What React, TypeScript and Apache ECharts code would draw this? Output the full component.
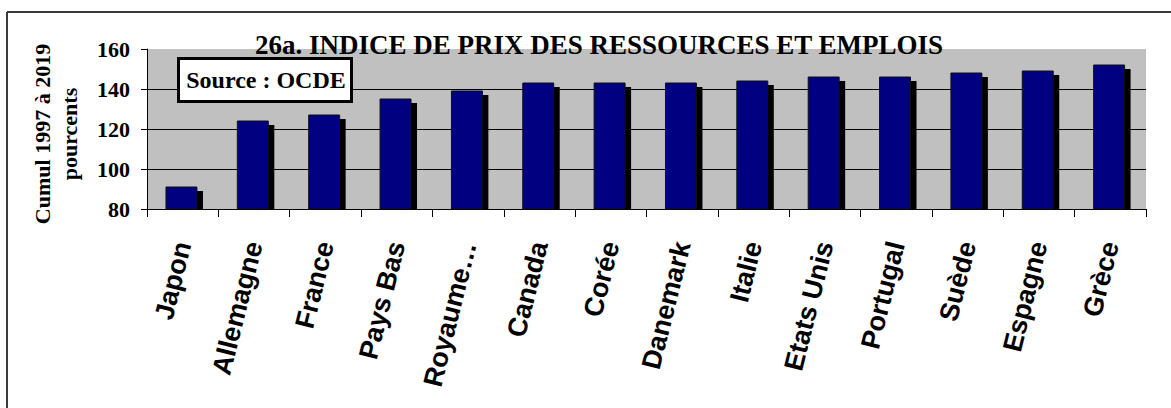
import React, { useEffect, useRef } from "react";
import * as echarts from "echarts";

const categories = [
  "Japon",
  "Allemagne",
  "France",
  "Pays Bas",
  "Royaume…",
  "Canada",
  "Corée",
  "Danemark",
  "Italie",
  "Etats Unis",
  "Portugal",
  "Suède",
  "Espagne",
  "Grèce",
];
const values = [91, 124, 127, 135, 139, 143, 143, 143, 144, 146, 146, 148, 149, 152];
const yMin = 80;
const yMax = 160;
const yStep = 20;
const titleText = "26a. INDICE DE PRIX DES RESSOURCES ET EMPLOIS";
const sourceText = "Source : OCDE";
const yAxisTitle = "Cumul 1997 à 2019\npourcents";

const SERIF = '"Liberation Serif", "Times New Roman", serif';
const SANS = '"Liberation Sans", Arial, sans-serif';

export default function App() {
  const ref = useRef<HTMLDivElement>(null);
  useEffect(() => {
    if (!ref.current) return;
    const chart = echarts.init(ref.current, undefined, { renderer: "svg" });
    chart.setOption({
      animation: false,
      backgroundColor: "#ffffff",
      grid: {
        left: 147,
        right: 25,
        top: 49,
        bottom: 199,
        show: true,
        backgroundColor: "#C0C0C0",
        borderWidth: 0,
      },
      xAxis: {
        type: "category",
        data: categories,
        boundaryGap: true,
        axisLine: { show: true, lineStyle: { color: "#000", width: 1 } },
        axisTick: { show: true, interval: 0, length: 8, lineStyle: { color: "#000" } },
        axisLabel: {
          interval: 0,
          rotate: 76,
          margin: 33,
          padding: [0, 0, 14, 0],
          color: "#000",
          fontFamily: SANS,
          fontWeight: "bold",
          fontSize: 27,
        },
        splitLine: { show: false },
      },
      yAxis: {
        type: "value",
        min: yMin,
        max: yMax,
        interval: yStep,
        axisLine: { show: true, lineStyle: { color: "#000", width: 1 } },
        axisTick: { show: true, length: 6, lineStyle: { color: "#000" } },
        axisLabel: {
          margin: 17,
          color: "#000",
          fontFamily: SERIF,
          fontWeight: "bold",
          fontSize: 22,
        },
        splitLine: {
          show: true,
          showMinLine: false,
          showMaxLine: false,
          lineStyle: { color: "#000", width: 1 },
        },
      },
      series: [
        {
          type: "custom",
          data: values.map((v, i) => [i, v]),
          encode: { x: 0, y: 1 },
          renderItem: (params: any, api: any) => {
            const idx = api.value(0);
            const v = api.value(1);
            const top = api.coord([idx, v]);
            const base = api.coord([idx, yMin]);
            const band = api.size([1, 0])[0];
            const w = band * 0.434;
            const left = top[0] - band * 0.234;
            return {
              type: "group",
              children: [
                {
                  type: "rect",
                  shape: { x: left + 6, y: top[1] + 4, width: w, height: base[1] - top[1] - 4 },
                  style: { fill: "#000" },
                },
                {
                  type: "rect",
                  shape: { x: left, y: top[1], width: w, height: base[1] - top[1] },
                  style: { fill: "#000080", stroke: "#111", lineWidth: 1 },
                },
              ],
            };
          },
        },
      ],
      graphic: [
        {
          type: "line",
          z: 100,
          shape: { x1: 7, y1: 12, x2: 1171, y2: 12 },
          style: { stroke: "#3a3a3a", lineWidth: 2 },
        },
        {
          type: "line",
          z: 100,
          shape: { x1: 7, y1: 12, x2: 7, y2: 408 },
          style: { stroke: "#3a3a3a", lineWidth: 2 },
        },
        {
          type: "text",
          z: 100,
          x: 599,
          y: 45,
          style: {
            text: titleText,
            fill: "#000",
            font: `bold 27px ${SERIF}`,
            align: "center",
            verticalAlign: "middle",
          },
        },
        {
          type: "rect",
          z: 100,
          shape: { x: 178.5, y: 58.5, width: 173, height: 43 },
          style: { fill: "#fff", stroke: "#000", lineWidth: 3 },
        },
        {
          type: "text",
          z: 101,
          x: 266,
          y: 80,
          style: {
            text: sourceText,
            fill: "#000",
            font: `bold 24px ${SERIF}`,
            align: "center",
            verticalAlign: "middle",
          },
        },
        {
          type: "text",
          z: 100,
          x: 56,
          y: 134,
          rotation: Math.PI / 2,
          style: {
            text: yAxisTitle,
            fill: "#000",
            font: `bold 22px ${SERIF}`,
            lineHeight: 27,
            align: "center",
            verticalAlign: "middle",
          },
        },
      ],
    });
    return () => chart.dispose();
  }, []);
  return (
    <div
      ref={ref}
      style={{ position: "fixed", left: 0, top: 0, width: 1171, height: 408, background: "#fff" }}
    />
  );
}
